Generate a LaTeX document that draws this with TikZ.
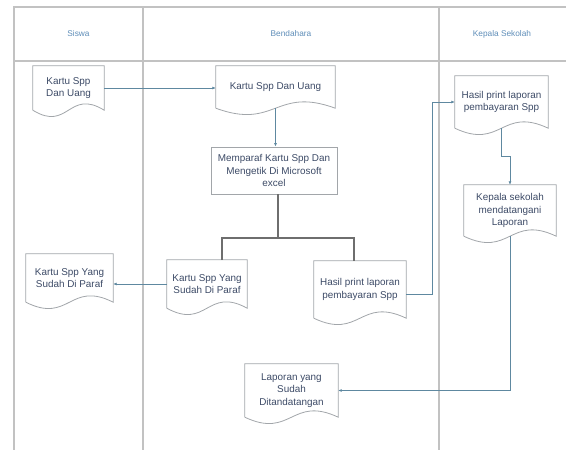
\documentclass[tikz,border=0pt]{standalone}
\usepackage{fontspec}
\setmainfont{Liberation Sans}
\usepackage{xcolor}
\usetikzlibrary{arrows.meta,calc}

\definecolor{lanecol}{HTML}{C2C2C2}
\definecolor{shapecol}{HTML}{A2A6AA}
\definecolor{flowcol}{HTML}{5E88A0}
\definecolor{treecol}{HTML}{6E6E6E}
\definecolor{txtcol}{HTML}{3C4A66}
\definecolor{headcol}{HTML}{5E8DB8}

% document symbol round a named node
\newcommand{\docshape}[1]{%
\draw [docline] (#1.south west) -- (#1.north west) -- (#1.north east) -- (#1.south east)
  .. controls ($(#1.south)+(0pt,22pt)$) and ($(#1.south)+(0pt,-22pt)$) .. (#1.south west);}

\begin{document}
\begin{tikzpicture}[x=1pt,y=-1pt]
\tikzstyle{every node}+=[inner sep=0pt, text=txtcol, align=center, font=\fontsize{9.9}{12.5}\selectfont]
\tikzstyle{lane}=[draw=lanecol, line width=1.3pt]
\tikzstyle{head}=[text=headcol, font=\fontsize{8.3}{10}\selectfont]
\tikzstyle{docline}=[draw=shapecol, line width=0.8pt]
\tikzstyle{procbox}=[draw=shapecol, line width=0.8pt]
\tikzstyle{flow}=[draw=flowcol, line width=0.9pt, -{Latex[length=3.5pt,width=3pt]}]
\tikzstyle{tree}=[draw=treecol, line width=1.5pt]
\useasboundingbox (0,0) rectangle (566,450);
% lanes
\draw [lane] (14,450) -- (14,7) -- (566,7);
\draw [lane] (14,61) -- (566,61);
\draw [lane] (143,7) -- (143,450);
\draw [lane] (439,7) -- (439,450);
\node [head] (lsiswa) at (78.5,34) {Siswa};
\node [head] (lbend) at (291,34) {Bendahara};
\node [head] (lkepala) at (502,34) {Kepala Sekolah};
% shapes
\node [minimum width=71pt, minimum height=44pt] (s1) at (68.5,88) {Kartu Spp\\Dan Uang};
\node [minimum width=119pt, minimum height=42pt] (b1) at (275.5,87) {Kartu Spp Dan Uang};
\node [procbox, minimum width=126pt, minimum height=47pt] (b2) at (274,170.5) {Memparaf Kartu Spp Dan\\Mengetik Di Microsoft\\excel};
\node [minimum width=80pt, minimum height=48pt] (b3) at (207,284) {Kartu Spp Yang\\Sudah Di Paraf};
\node [minimum width=92pt, minimum height=57pt] (b4) at (360,289.5) {Hasil print laporan\\pembayaran Spp};
\node [minimum width=87pt, minimum height=48pt] (s2) at (69.5,278) {Kartu Spp Yang\\Sudah Di Paraf};
\node [minimum width=93pt, minimum height=52pt] (k1) at (501.5,102) {Hasil print laporan\\pembayaran Spp};
\node [minimum width=92pt, minimum height=51pt] (k2) at (510,210.5) {Kepala sekolah\\mendatangani\\Laporan};
\node [minimum width=93pt, minimum height=53pt] (b5) at (291.5,390.5) {Laporan yang\\Sudah\\Ditandatangan};
\docshape{s1}
\docshape{b1}
\docshape{b3}
\docshape{b4}
\docshape{s2}
\docshape{k1}
\docshape{k2}
\docshape{b5}
% connectors
\draw [flow] (s1.east) -- (s1.east -| b1.west);
\draw [flow] (b1.south) -- (b1.south |- b2.north);
\draw [tree] ([xshift=4pt]b2.south) -- ([xshift=4pt]b2.south |- 0,238) coordinate (fork);
\draw [tree] ([xshift=15pt]b3.north) |- (fork) -| ([xshift=-6pt]b4.north);
\draw [flow] ([yshift=-5pt]b4.east) -- ++(26,0) |- (k1.west);
\draw [flow] (k1.south) |- ($(k1.south)!0.5!(k2.north)$) -| (k2.north);
\draw [flow] (k2.south) |- (b5.east);
\draw [flow] (b3.west) -- (b3.west -| s2.east);
\end{tikzpicture}
\end{document}
